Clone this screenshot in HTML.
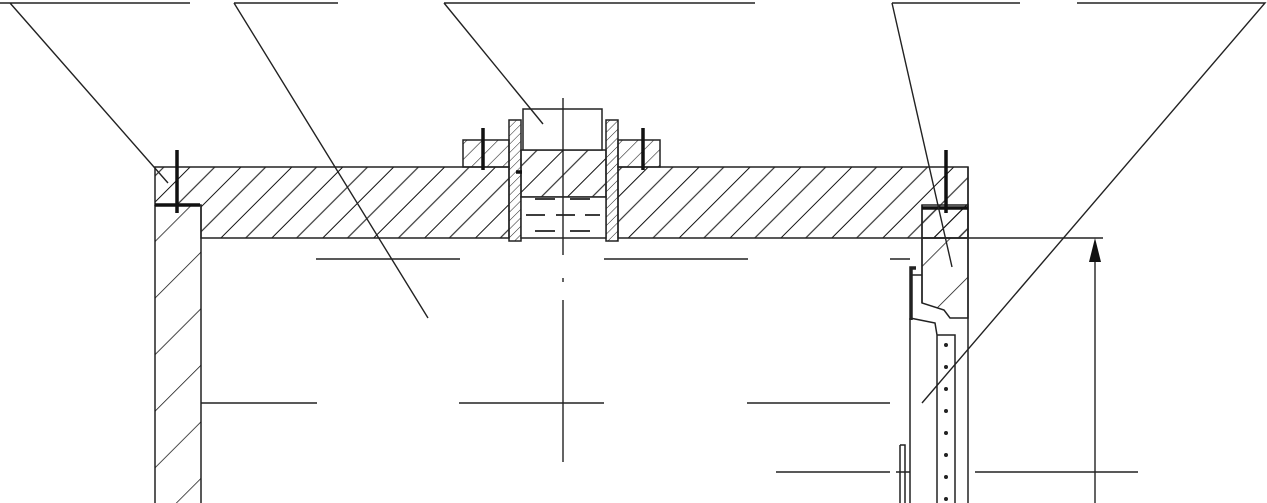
<!DOCTYPE html>
<html><head><meta charset="utf-8"><style>html,body{margin:0;padding:0;background:#fff}svg{display:block}</style></head>
<body>
<svg width="1267" height="503" viewBox="0 0 1267 503" xmlns="http://www.w3.org/2000/svg">
<defs>
<pattern id="h" patternUnits="userSpaceOnUse" width="36" height="36" patternTransform="rotate(45)">
<line x1="0" y1="0" x2="0" y2="36" stroke="#111" stroke-width="2"/>
<line x1="18" y1="0" x2="18" y2="36" stroke="#333" stroke-width="1.2"/>
</pattern>
<pattern id="hf" patternUnits="userSpaceOnUse" width="11" height="11" patternTransform="rotate(45)">
<line x1="0" y1="0" x2="0" y2="11" stroke="#222" stroke-width="1.2"/>
</pattern>
<pattern id="h2" patternUnits="userSpaceOnUse" width="40" height="40" patternTransform="rotate(45)">
<line x1="0" y1="0" x2="0" y2="40" stroke="#111" stroke-width="1.5"/>
</pattern>
<pattern id="hs" patternUnits="userSpaceOnUse" width="6" height="6" patternTransform="rotate(45)">
<line x1="0" y1="0" x2="0" y2="6" stroke="#222" stroke-width="1"/>
</pattern>
</defs>
<g fill="none" stroke="#222" stroke-width="1.5">
<path d="M155 167 H509 V238 H201 V205 H155 Z" fill="url(#h)"/>
<path d="M618 167 H968 V238 H618 Z" fill="url(#h)"/>
<path d="M922 205 H968 V238 H922 Z" fill="url(#h)"/>
<path d="M155 205 V503 M201 205 V503" />
<rect x="155" y="205" width="46" height="298" fill="url(#h2)" stroke="none"/>
<path d="M922 238 L968 238 L968 318 L950 318 L944 310 L922 303 Z" fill="url(#h2)"/>
<path d="M922 205 V303"/>
<path d="M968 167 V503"/>
<path d="M910 318 V503 M910 318 L935 323 L937 335 H955 V503 M937 335 V503"/>
<path d="M911 320 V268 L916 268" stroke-width="3.5"/>
<path d="M911 275 H922"/>
<path d="M900 445 V503 M900 445 H905 V503 M896 472 H910"/>
<rect x="509" y="120" width="12" height="121" fill="url(#hs)"/>
<rect x="606" y="120" width="12" height="121" fill="url(#hs)"/>
<rect x="521" y="150" width="85" height="47" fill="url(#h)"/>
<rect x="521" y="197" width="85" height="41" fill="#fff"/>
<rect x="523" y="109" width="79" height="41" fill="#fff"/>
<rect x="463" y="140" width="46" height="27" fill="url(#hf)"/>
<rect x="618" y="140" width="42" height="27" fill="url(#hf)"/>
<path d="M535 199 H555 M570 199 H590 M526 215 H545 M556 215 H575 M585 215 H600 M535 231 H555 M570 231 H590" stroke-width="1.8"/>
</g>
<g stroke="#111" stroke-width="3.5">
<path d="M177 150 V213 M155 205 H200"/>
<path d="M946 150 V213 M922 208 H968"/>
<path d="M483 128 V170 M643 128 V170"/>
<path d="M516 172 H522"/>
</g>
<g stroke="#222" stroke-width="1.4" fill="none">
<path d="M0 3 H190 M10 3 L168 183"/>
<path d="M234 3 H338 M234 3 L428 318"/>
<path d="M444 3 H755 M444 3 L543 124"/>
<path d="M892 3 H1020 M892 3 L952 267"/>
<path d="M1077 3 H1265 L922 403"/>
<path d="M316 259 H460 M604 259 H748 M890 259 H910"/>
<path d="M201 403 H317 M459 403 H604 M747 403 H890"/>
<path d="M776 472 H890 M975 472 H1138"/>
<path d="M563 98 V255 M563 278 V282 M563 300 V462"/>
<path d="M968 238 H1103 M1095 250 V503"/>
</g>
<path d="M1095 238 L1089 262 L1101 262 Z" fill="#111"/>
<g fill="#222">
<circle cx="946" cy="345" r="2"/><circle cx="946" cy="367" r="2"/><circle cx="946" cy="389" r="2"/><circle cx="946" cy="411" r="2"/><circle cx="946" cy="433" r="2"/><circle cx="946" cy="455" r="2"/><circle cx="946" cy="477" r="2"/><circle cx="946" cy="499" r="2"/>
</g>
</svg>
</body></html>
